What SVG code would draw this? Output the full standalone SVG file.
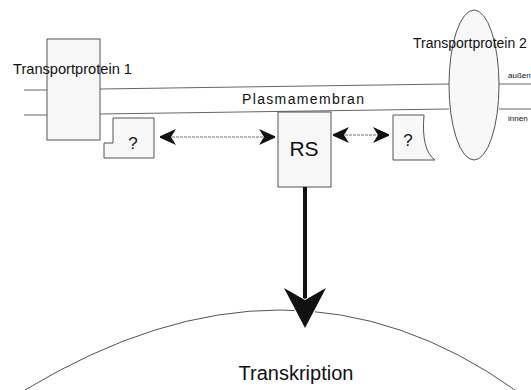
<svg xmlns="http://www.w3.org/2000/svg" width="531" height="390" viewBox="0 0 531 390">
<defs>
<style>
.t{font-family:"Liberation Sans",Arial,sans-serif;fill:#111}
.box{fill:#f8f8f8;stroke:#555;stroke-width:1}
.mem{fill:none;stroke:#666;stroke-width:1}
.dbl{fill:none;stroke:#777;stroke-width:1;stroke-dasharray:3 1}
</style>
<marker id="chev" viewBox="0 -9 17 18" refX="16" refY="0" markerWidth="17" markerHeight="18" markerUnits="userSpaceOnUse" orient="auto-start-reverse">
<path d="M0,-8 L16,-0.8 L16,0.8 L0,8 L5,0 Z" fill="#111"/>
</marker>
</defs>
<rect width="531" height="390" fill="#fff"/>

<g id="membrane">
<path class="mem" d="M24,90 L47,90 M24,115 L47,115"/>
<path class="mem" d="M100,89 L449,84 M100,114 L449,109"/>
<path class="mem" d="M499,84 L531,84 M499,109 L531,109"/>
<text class="t" x="242" y="104" font-size="14" textLength="122" lengthAdjust="spacing">Plasmamembran</text>
<text class="t" x="508" y="78" font-size="8">außen</text>
<text class="t" x="508" y="121" font-size="8">innen</text>
</g>

<g id="transportprotein1">
<rect class="box" x="47" y="39" width="53" height="101"/>
<text class="t" x="13" y="74" font-size="15" textLength="119" lengthAdjust="spacingAndGlyphs">Transportprotein 1</text>
</g>

<g id="transportprotein2">
<ellipse class="box" cx="474" cy="85" rx="25" ry="75"/>
<text class="t" x="413" y="48" font-size="14">Transportprotein 2</text>
</g>

<g id="unknown1">
<path class="box" d="M113,118 L154,118 L154,158 L104,158 L104,143 L113,143 Z"/>
<text class="t" x="133" y="149" font-size="17" text-anchor="middle">?</text>
</g>

<g id="rs">
<rect class="box" x="278" y="112" width="53" height="75"/>
<text class="t" x="304" y="156" font-size="21" text-anchor="middle">RS</text>
</g>

<g id="unknown2">
<path class="box" d="M393,115 L424,115 Q421,150 435,160 L393,160 Z"/>
<text class="t" x="408" y="146" font-size="17" text-anchor="middle">?</text>
</g>

<g id="nucleus">
<path fill="none" stroke="#555" stroke-width="1" d="M25,390 Q290,230 515,390"/>
<text class="t" x="296" y="380" font-size="20" text-anchor="middle">Transkription</text>
</g>

<g id="connectors">
<line class="dbl" x1="160" y1="137" x2="275" y2="137" marker-start="url(#chev)" marker-end="url(#chev)"/>
<line class="dbl" x1="333" y1="135" x2="389" y2="135" marker-start="url(#chev)" marker-end="url(#chev)"/>
<line x1="305" y1="187" x2="305" y2="300" stroke="#111" stroke-width="4"/>
<path d="M305,328 L284,288 L305,300 L326,288 Z" fill="#111" stroke="#fff" stroke-width="2" paint-order="stroke"/>
</g>
</svg>
